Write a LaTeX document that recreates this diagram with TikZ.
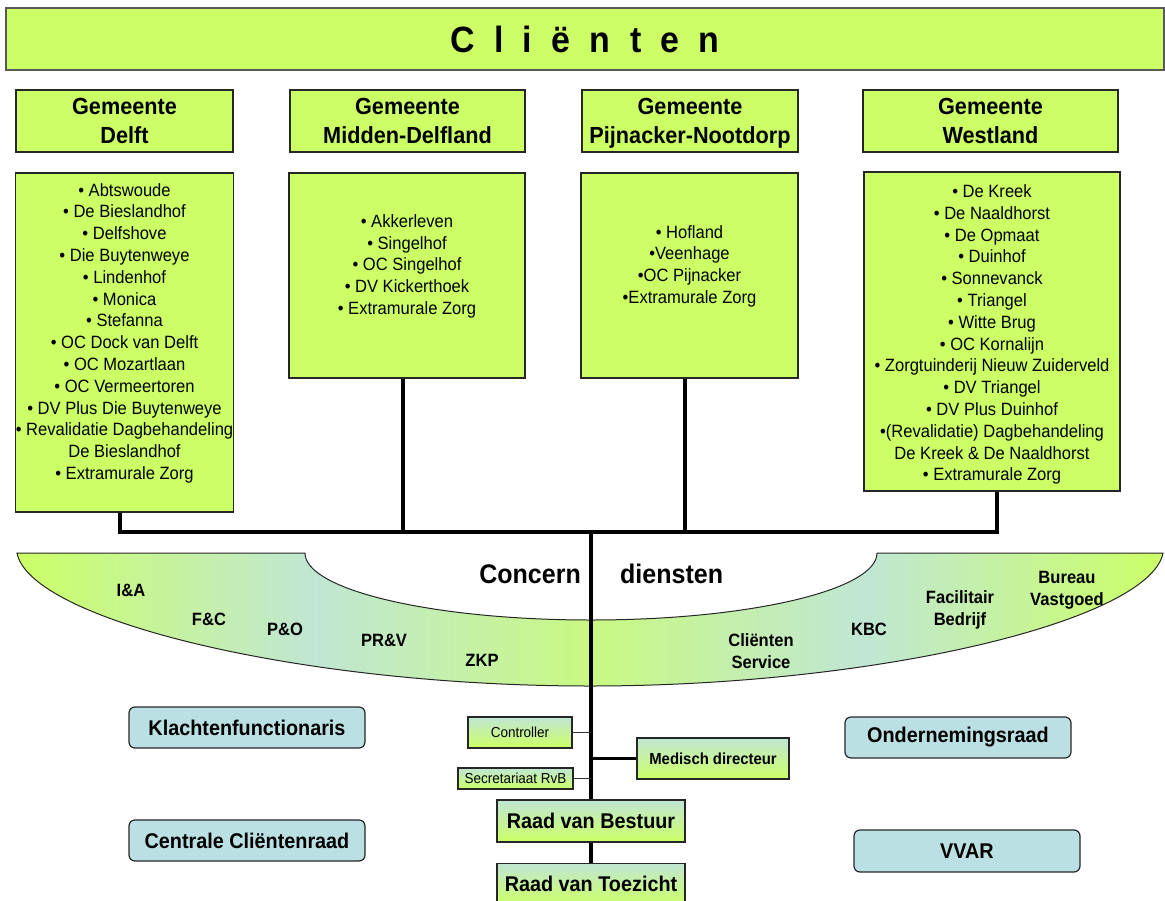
\documentclass[tikz,border=0pt]{standalone}
\usepackage{fontspec}
\setmainfont{Liberation Sans}[FakeStretch=0.93]
\usetikzlibrary{positioning}
\definecolor{clgreen}{RGB}{204,255,102}
\definecolor{clpale}{RGB}{192,230,212}
\definecolor{clblue}{RGB}{187,224,227}
\colorlet{clmid}{clgreen!75!clpale}
\pgfdeclarehorizontalshading{bandverloop}{100bp}{color(0bp)=(clgreen); color(25bp)=(clgreen); color(38bp)=(clpale); color(50bp)=(clmid); color(62bp)=(clpale); color(75bp)=(clgreen); color(100bp)=(clgreen)}

\begin{document}
\begin{tikzpicture}[x=1pt, y=-1pt,
    titel/.style = {draw=black!65, line width=1.5pt, fill=clgreen, inner sep=0pt,
                    font=\bfseries\fontsize{36.5}{40}\selectfont},
    kop/.style   = {draw=black!85, line width=1.2pt, fill=clgreen, align=center, inner sep=0pt,
                    font=\bfseries\fontsize{23.3}{29}\selectfont},
    lijst/.style = {draw=black!85, line width=1.2pt, fill=clgreen, align=center, inner sep=0pt,
                    font=\fontsize{17.8}{21.8}\selectfont},
    raad/.style  = {draw=black!85, line width=1.2pt, fill=clblue, rounded corners=6pt, inner sep=0pt,
                    font=\bfseries\fontsize{21.3}{25}\selectfont},
    verloop/.style = {draw=black!85, line width=1.2pt, top color=clpale, bottom color=clgreen, inner sep=0pt},
    dienst/.style  = {align=center, inner sep=0pt, font=\bfseries\fontsize{17.8}{22}\selectfont},
    lijn/.style  = {line width=3.2pt},
    dun/.style   = {line width=1pt, black!80}]
    \useasboundingbox (0,0) rectangle (1165,900);

    \node[titel, minimum width=1158, minimum height=62] (cl) at (585,39) {\spaceskip=.53em C l i ë n t e n};

    % gemeenten
    \node[kop, minimum width=217, minimum height=62] (hdelft) at (124.5,121) {Gemeente\\Delft};
    \node[kop, minimum width=235, minimum height=62] (hmidden) at (407.5,121) {Gemeente\\Midden-Delfland};
    \node[kop, minimum width=216, minimum height=62] (hpijn) at (690,121) {Gemeente\\\raisebox{0pt}[\height][0pt]{Pijnacker-Nootdorp}};
    \node[kop, minimum width=255, minimum height=62] (hwest) at (990.5,121) {Gemeente\\Westland};

    \node[lijst, minimum width=217, minimum height=339] (ldelft) at (124.5,342.5)
        {\rule{0pt}{19pt}• Abtswoude\\• De Bieslandhof\\• Delfshove\\• Die Buytenweye\\• Lindenhof\\• Monica\\• Stefanna\\
         • OC Dock van Delft\\• OC Mozartlaan\\• OC Vermeertoren\\• DV Plus Die Buytenweye\\
         • Revalidatie Dagbehandeling\\De Bieslandhof\\• Extramurale Zorg\\ \strut};
    \node[lijst, minimum width=236, minimum height=205] (lmidden) at (407,275.5)
        {\rule{0pt}{19pt}• Akkerleven\\• Singelhof\\• OC Singelhof\\• DV Kickerthoek\\• Extramurale Zorg\\ \strut};
    \node[lijst, minimum width=217, minimum height=205] (lpijn) at (689.5,275.5)
        {\rule{0pt}{19pt}• Hofland\\•Veenhage\\•OC Pijnacker\\•Extramurale Zorg\\ \strut};
    \node[lijst, minimum width=256, minimum height=319] (lwest) at (992,331.5)
        {\rule{0pt}{19pt}• De Kreek\\• De Naaldhorst\\• De Opmaat\\• Duinhof\\• Sonnevanck\\• Triangel\\• Witte Brug\\
         • OC Kornalijn\\• Zorgtuinderij Nieuw Zuiderveld\\• DV Triangel\\• DV Plus Duinhof\\
         •(Revalidatie) Dagbehandeling\\De Kreek \& De Naaldhorst\\• Extramurale Zorg};

    \coordinate (hub) at (591,532);
    \draw[lijn] ([xshift=-4.5pt]ldelft.south) |- (hub) -| ([xshift=5pt]lwest.south);
    \draw[lijn] ([xshift=-4pt]lmidden.south) -- ([xshift=-4pt]lmidden.south |- hub);
    \draw[lijn] ([xshift=-4.5pt]lpijn.south) -- ([xshift=-4.5pt]lpijn.south |- hub);

    % concerndiensten
    \shadedraw[shading=bandverloop, draw=black!85, line width=1pt]
        (17,553) -- (305,553) .. controls (305,590) and (433,620) .. (591,620)
        .. controls (749,620) and (877,590) .. (877,553) -- (1163,553)
        .. controls (1150,620) and (880,686) .. (590,686)
        .. controls (300,686) and (30,620) .. (17,553) -- cycle;
    \node[inner sep=0pt, anchor=base east, font=\bfseries\fontsize{26.9}{30}\selectfont] (concern) at (581,583) {Concern};
    \node[inner sep=0pt, anchor=base west, font=\bfseries\fontsize{26.9}{30}\selectfont] (diensten) at (620,583) {diensten};
    \node[dienst] (ia) at (131,590) {I\&A};
    \node[dienst] (fc) at (209,619) {F\&C};
    \node[dienst] (po) at (285,629) {P\&O};
    \node[dienst] (prv) at (384,640) {PR\&V};
    \node[dienst] (zkp) at (482,660) {ZKP};
    \node[dienst] (cs) at (761,651) {Cliënten\\Service};
    \node[dienst] (kbc) at (869,629) {KBC};
    \node[dienst] (fb) at (960,610) {Facilitair\\Bedrijf};
    \node[dienst] (bv) at (1067,590) {Bureau\\Vastgoed};

    % bestuur en raden
    \node[raad, minimum width=236, minimum height=41] (klacht) at (247,727.5) {Klachtenfunctionaris};
    \node[raad, minimum width=236, minimum height=41] (ccr) at (247,840.5) {Centrale Cliëntenraad};
    \node[raad, minimum width=226, minimum height=41] (or) at (958,737.5) {Ondernemingsraad};
    \node[raad, minimum width=226, minimum height=42] (vvar) at (967,851) {VVAR};

    \node[verloop, minimum width=104, minimum height=31, font=\fontsize{14.5}{17}\selectfont] (ctrl) at (520,732.5) {Controller};
    \node[verloop, minimum width=115, minimum height=21, font=\fontsize{14.5}{17}\selectfont] (secr) at (515.5,778.5) {Secretariaat RvB};
    \node[verloop, minimum width=152, minimum height=41, font=\bfseries\fontsize{16}{19}\selectfont] (med) at (713,758.5) {Medisch directeur};
    \node[verloop, minimum width=188, minimum height=42, font=\bfseries\fontsize{21.3}{25}\selectfont] (rvb) at (591,821) {Raad van Bestuur};
    \node[verloop, minimum width=188, minimum height=42, font=\bfseries\fontsize{21.3}{25}\selectfont, below=20pt of rvb] (rvt) {Raad van Toezicht};

    \draw[lijn] (hub) -- (rvb.north);
    \draw[lijn] (rvb.south) -- (rvt.north);
    \draw[lijn] (med.west -| hub) -- (med.west);
    \draw[dun] (ctrl.east) -- (ctrl.east -| hub);
    \draw[dun] (secr.east) -- (secr.east -| hub);
\end{tikzpicture}
\end{document}
